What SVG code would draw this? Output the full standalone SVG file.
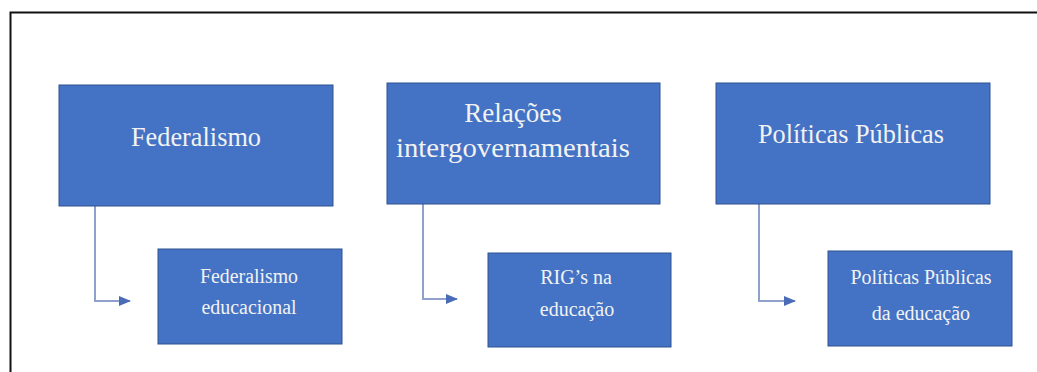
<svg xmlns="http://www.w3.org/2000/svg" width="1037" height="372" viewBox="0 0 1037 372">
<defs>
<style>
.box{fill:#4472C4;stroke:#2F528F;stroke-width:1}
.t1{font-family:"Liberation Serif","Times New Roman",serif;font-size:27px;fill:#F2F2F2;text-anchor:middle}
.t2{font-family:"Liberation Serif","Times New Roman",serif;font-size:20px;fill:#F2F2F2;text-anchor:middle}
.con{fill:none;stroke:#8FA0CC;stroke-width:2}
</style>
<marker id="arr" markerWidth="12" markerHeight="10" refX="11" refY="5" orient="auto" markerUnits="userSpaceOnUse" viewBox="0 0 12 10">
<path d="M0,0 L12,5 L0,10 Z" fill="#4A6BB5"/>
</marker>
</defs>
<rect x="0" y="0" width="1037" height="372" fill="#FFFFFF"/>
<path d="M10.5,372 V12.5 H1037" fill="none" stroke="#111" stroke-width="2"/>
<g id="connectors">
<path class="con" d="M95,206 V301 H130" marker-end="url(#arr)"/>
<path class="con" d="M423,204 V299 H457" marker-end="url(#arr)"/>
<path class="con" d="M759,204 V301 H795" marker-end="url(#arr)"/>
</g>
<g id="federalismo">
<rect class="box" x="59" y="85" width="274" height="121"/>
<text class="t1" x="196" y="146" textLength="130" lengthAdjust="spacingAndGlyphs">Federalismo</text>
</g>
<g id="relacoes">
<rect class="box" x="387" y="83" width="273" height="121"/>
<text class="t1" x="513" y="122">Relações</text>
<text class="t1" x="513" y="157" textLength="234" lengthAdjust="spacingAndGlyphs">intergovernamentais</text>
</g>
<g id="politicas">
<rect class="box" x="716" y="83" width="274" height="121"/>
<text class="t1" x="851" y="143" textLength="186" lengthAdjust="spacingAndGlyphs">Políticas Públicas</text>
</g>
<g id="federalismo-educacional">
<rect class="box" x="158" y="249" width="184" height="95"/>
<text class="t2" x="249" y="283" textLength="98" lengthAdjust="spacingAndGlyphs">Federalismo</text>
<text class="t2" x="249" y="314" textLength="95" lengthAdjust="spacingAndGlyphs">educacional</text>
</g>
<g id="rigs-educacao">
<rect class="box" x="488" y="253" width="183" height="94"/>
<text class="t2" x="576" y="284">RIG’s na</text>
<text class="t2" x="577" y="316">educação</text>
</g>
<g id="politicas-educacao">
<rect class="box" x="828" y="251" width="184" height="95"/>
<text class="t2" x="921" y="284" textLength="141" lengthAdjust="spacingAndGlyphs">Políticas Públicas</text>
<text class="t2" x="921" y="320">da educação</text>
</g>
</svg>
